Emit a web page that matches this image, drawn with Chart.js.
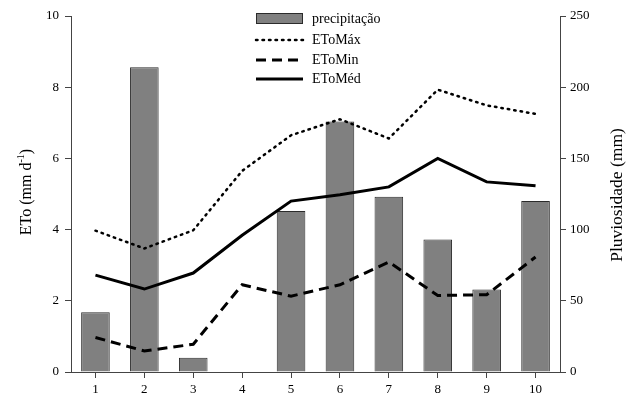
<!DOCTYPE html>
<html>
<head>
<meta charset="utf-8">
<script src="https://cdn.jsdelivr.net/npm/chart.js@4"></script>
<style>
  body { margin: 0; background: #fff; }
  canvas { display: block; }
</style>
</head>
<body>
<canvas id="etoChart" width="634" height="394"></canvas>
<script>
const labels = ["1", "2", "3", "4", "5", "6", "7", "8", "9", "10"];

// precipitação (mm), eixo direito
const precipitacao = [42, 214, 10, 0, 113, 176, 123, 93, 58, 120];

// ETo (mm d-1), eixo esquerdo
const etoMax = [3.97, 3.47, 3.98, 5.65, 6.65, 7.1, 6.56, 7.93, 7.49, 7.25];
const etoMin = [0.97, 0.59, 0.78, 2.45, 2.13, 2.45, 3.09, 2.15, 2.17, 3.23];
const etoMed = [2.72, 2.33, 2.78, 3.84, 4.8, 4.98, 5.2, 6.0, 5.34, 5.23];

const serif = "'Liberation Serif', 'Times New Roman', serif";
const axisColor = "#444";

const datasets = [
  {
    type: "bar",
    label: "precipitação",
    data: precipitacao,
    yAxisID: "y2",
    backgroundColor: "#808080",
    borderColor: "#2b2b2b",
    borderWidth: 1,
    barPercentage: 0.585,
    categoryPercentage: 1,
    order: 1
  },
  {
    type: "line",
    label: "EToMáx",
    data: etoMax,
    yAxisID: "y",
    borderColor: "#000",
    borderWidth: 2.5,
    borderDash: [1.5, 5],
    borderCapStyle: "round",
    pointRadius: 0,
    tension: 0,
    order: 0
  },
  {
    type: "line",
    label: "EToMin",
    data: etoMin,
    yAxisID: "y",
    borderColor: "#000",
    borderWidth: 3,
    borderDash: [10, 6],
    pointRadius: 0,
    tension: 0,
    order: 0
  },
  {
    type: "line",
    label: "EToMéd",
    data: etoMed,
    yAxisID: "y",
    borderColor: "#000",
    borderWidth: 3,
    pointRadius: 0,
    tension: 0,
    order: 0
  }
];

// legenda dentro do gráfico
const insideLegend = {
  id: "insideLegend",
  afterDraw(chart) {
    const ctx = chart.ctx;
    ctx.save();
    ctx.font = "14px " + serif;
    ctx.fillStyle = "#000";
    ctx.textBaseline = "middle";
    const rows = [19, 40, 60, 79];
    chart.data.datasets.forEach((ds, i) => {
      const y = rows[i];
      if (ds.type === "bar") {
        ctx.fillStyle = ds.backgroundColor;
        ctx.fillRect(256, 13, 47, 11);
        ctx.strokeStyle = ds.borderColor;
        ctx.lineWidth = 1;
        ctx.strokeRect(256.5, 13.5, 46, 10);
      } else {
        ctx.beginPath();
        ctx.strokeStyle = ds.borderColor;
        ctx.lineWidth = ds.borderWidth;
        ctx.lineCap = ds.borderCapStyle || "butt";
        ctx.setLineDash(ds.borderDash || []);
        ctx.moveTo(256, y);
        ctx.lineTo(303, y);
        ctx.stroke();
        ctx.setLineDash([]);
        ctx.lineCap = "butt";
      }
      ctx.fillStyle = "#000";
      ctx.fillText(ds.label, 312, y);
    });
    ctx.restore();
  }
};

// títulos dos eixos
const axisTitles = {
  id: "axisTitles",
  afterDraw(chart) {
    const ctx = chart.ctx;
    ctx.save();
    ctx.fillStyle = "#000";
    ctx.textBaseline = "middle";

    // esquerdo: ETo (mm d-1)
    ctx.translate(27, 192);
    ctx.rotate(-Math.PI / 2);
    ctx.font = "16px " + serif;
    const a = "ETo (mm d";
    const sup = "-1";
    const b = ")";
    const wa = ctx.measureText(a).width;
    const wb = ctx.measureText(b).width;
    ctx.font = "10px " + serif;
    const ws = ctx.measureText(sup).width;
    let x = -(wa + ws + wb) / 2;
    ctx.font = "16px " + serif;
    ctx.fillText(a, x, 0);
    ctx.font = "10px " + serif;
    ctx.fillText(sup, x + wa, -6);
    ctx.font = "16px " + serif;
    ctx.fillText(b, x + wa + ws, 0);
    ctx.restore();

    ctx.save();
    ctx.fillStyle = "#000";
    ctx.textBaseline = "middle";
    ctx.textAlign = "center";
    ctx.font = "17.5px " + serif;
    ctx.translate(617, 195);
    ctx.rotate(-Math.PI / 2);
    ctx.fillText("Pluviosidade (mm)", 0, 0);
    ctx.restore();
  }
};

const tickFont = { family: serif, size: 13 };

const config = {
  data: { labels, datasets },
  options: {
    responsive: false,
    animation: false,
    layout: { padding: { top: 16, left: 0, right: 0, bottom: 0 } },
    plugins: {
      legend: { display: false },
      tooltip: { enabled: false }
    },
    scales: {
      x: {
        offset: true,
        grid: { display: true, drawOnChartArea: false, tickLength: 6, color: axisColor, offset: false },
        border: { color: axisColor, width: 1 },
        ticks: { font: tickFont, color: "#000", padding: 4, maxRotation: 0 },
        afterFit(scale) { scale.height = 22; }
      },
      y: {
        position: "left",
        min: 0,
        max: 10,
        ticks: { stepSize: 2, font: tickFont, color: "#000", padding: 6 },
        grid: { display: true, drawOnChartArea: false, tickLength: 6, color: axisColor },
        border: { color: axisColor, width: 1 },
        afterFit(scale) { scale.width = 71; }
      },
      y2: {
        position: "right",
        min: 0,
        max: 250,
        ticks: { stepSize: 50, font: tickFont, color: "#000", padding: 4 },
        grid: { display: true, drawOnChartArea: false, tickLength: 6, color: axisColor },
        border: { color: axisColor, width: 1 },
        afterFit(scale) { scale.width = 74; }
      }
    }
  },
  plugins: [insideLegend, axisTitles]
};

const canvas = document.getElementById("etoChart");
const etoChart = new Chart(canvas, config);
</script>
</body>
</html>
